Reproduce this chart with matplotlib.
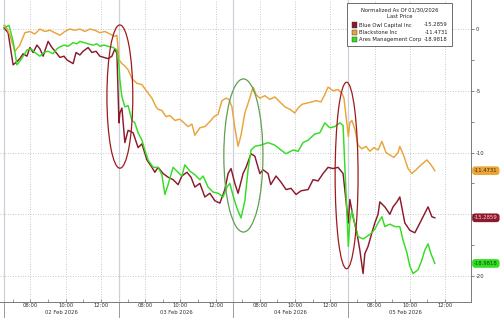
import matplotlib
matplotlib.use("Agg")
import matplotlib.pyplot as plt
import matplotlib.transforms as mtransforms
from matplotlib.patches import Ellipse, FancyBboxPatch, Rectangle

plt.rcParams['font.family'] = ['DejaVu Sans']

# ---- data: x = trading minutes since 02 Feb open (06:30), 390 min per session ----
bx_t = [0, 7, 20, 37, 54, 71, 88, 105, 122, 139, 156, 173, 190, 207, 224, 241, 258, 275, 292, 309, 326, 343, 360, 377, 384,
        391, 401, 411, 422, 435, 452, 469, 490, 503, 517, 524, 537, 551, 564, 581, 598, 612, 626, 639, 649, 666, 683, 700, 714, 728, 741, 755, 765,
        775, 785, 796, 806, 819, 833, 847, 857, 870, 887, 904, 921, 938, 955, 972, 989, 1000, 1013, 1030, 1047, 1061, 1078, 1091, 1102, 1119, 1136, 1149, 1156,
        1171, 1176, 1183, 1193, 1204, 1217, 1231, 1244, 1258, 1272, 1285, 1299, 1312, 1326, 1340, 1346, 1360, 1374, 1387, 1401, 1414, 1428, 1438, 1452, 1465]
bx_v = [0.3, 0.2, -0.5, -1.8, -1.3, -0.3, -0.2, -0.4, 0.0, -0.2, -0.1, -0.3, -0.5, -0.2, 0.0, -0.1, 0.0, -0.2, 0.0, -0.1, -0.3, -0.2, -0.4, -0.6, -0.5,
        -2.5, -2.8, -3.0, -3.3, -4.0, -4.4, -4.5, -5.2, -5.6, -6.3, -6.5, -6.6, -7.1, -7.0, -7.4, -7.3, -7.6, -7.9, -7.7, -8.6, -8.0, -7.9, -7.5, -7.1, -6.9, -5.8, -5.6, -5.7,
        -6.3, -8.0, -9.5, -8.6, -6.8, -5.8, -4.7, -5.3, -5.6, -5.4, -5.7, -5.5, -5.9, -6.3, -6.5, -6.8, -6.4, -6.1, -6.0, -5.9, -5.8, -5.9, -5.3, -4.7, -5.0, -4.9, -5.2, -5.6,
        -8.7, -7.6, -7.4, -8.1, -9.4, -9.7, -9.5, -9.9, -9.6, -9.8, -9.1, -10.0, -10.2, -10.4, -10.0, -9.5, -10.3, -11.3, -11.7, -11.4, -11.1, -10.8, -10.6, -11.0, -11.4731]

owl_t = [0, 14, 31, 41, 54, 65, 78, 88, 99, 112, 122, 133, 150, 163, 177, 190, 204, 214, 235, 245, 258, 269, 286, 299, 313, 326, 340, 354, 367, 377, 384,
         391, 394, 401, 411, 422, 439, 456, 469, 486, 503, 513, 524, 541, 558, 575, 592, 605, 622, 636, 649, 666, 683, 700, 717, 734, 751, 762, 772,
         785, 796, 813, 823, 840, 853, 870, 881, 898, 907, 925, 942, 959, 976, 993, 1010, 1034, 1051, 1068, 1085, 1102, 1119, 1136, 1153,
         1171, 1176, 1187, 1200, 1210, 1221, 1227, 1238, 1251, 1261, 1272, 1278, 1295, 1312, 1323, 1336, 1346, 1363, 1380, 1397, 1408, 1425, 1442, 1455, 1465]
owl_v = [0.1, -0.3, -2.9, -2.7, -2.4, -2.0, -2.2, -1.5, -1.9, -1.3, -1.6, -2.2, -1.0, -1.5, -1.9, -2.3, -2.2, -2.5, -2.8, -1.9, -2.1, -1.8, -1.5, -1.9, -1.8, -2.2, -2.3, -2.4, -2.2, -1.6, -2.0,
         -7.6, -6.8, -6.4, -9.2, -8.2, -8.4, -9.6, -9.3, -10.6, -11.2, -11.6, -11.2, -11.7, -12.0, -12.2, -12.6, -11.9, -11.6, -12.0, -12.8, -12.5, -13.6, -13.3, -13.9, -14.1, -13.0, -11.7, -11.3,
         -12.5, -13.3, -11.7, -11.2, -10.1, -10.3, -11.7, -11.4, -11.7, -12.6, -11.9, -12.4, -13.0, -12.9, -13.4, -13.1, -13.0, -12.2, -12.3, -11.7, -11.2, -11.3, -11.2, -11.7,
         -15.7, -13.8, -15.2, -16.5, -17.9, -19.8, -18.2, -17.6, -16.5, -15.7, -15.0, -14.0, -14.4, -15.0, -14.4, -14.0, -13.6, -15.7, -16.3, -16.5, -16.0, -15.2, -14.4, -15.2, -15.2859]

ares_t = [0, 17, 31, 44, 54, 68, 78, 92, 105, 122, 136, 150, 167, 180, 190, 204, 218, 235, 248, 258, 272, 286, 303, 316, 326, 340, 354, 371, 384,
          391, 394, 401, 411, 422, 435, 445, 456, 469, 479, 490, 507, 524, 537, 547, 558, 575, 592, 605, 615, 632, 649, 666, 677, 694, 711, 728, 745, 758, 768,
          779, 792, 806, 819, 830, 840, 853, 874, 898, 921, 942, 959, 983, 1000, 1017, 1034, 1057, 1074, 1091, 1108, 1125, 1142, 1153,
          1171, 1176, 1183, 1193, 1204, 1221, 1234, 1251, 1261, 1272, 1285, 1295, 1312, 1329, 1346, 1357, 1370, 1380, 1391, 1408, 1421, 1431, 1442, 1452, 1465]
ares_v = [0.1, 0.3, -1.0, -2.9, -2.6, -2.1, -1.7, -1.6, -1.9, -2.2, -1.9, -1.8, -2.0, -1.6, -1.45, -1.3, -1.4, -1.1, -1.2, -1.0, -1.1, -1.2, -1.3, -1.2, -1.4, -1.3, -1.4, -1.5, -1.7,
          -3.0, -4.1, -5.5, -6.3, -6.2, -7.4, -7.6, -8.4, -9.0, -9.8, -10.6, -11.2, -11.2, -11.8, -13.4, -12.6, -11.2, -11.6, -11.9, -11.0, -11.5, -11.8, -12.2, -11.9, -12.8, -13.2, -13.3, -13.6, -12.8, -12.5,
          -13.5, -14.5, -15.3, -13.9, -11.4, -9.8, -9.5, -9.4, -9.2, -9.4, -9.8, -10.1, -9.8, -9.9, -9.2, -9.0, -8.5, -8.4, -7.6, -8.0, -7.9, -7.6, -7.8,
          -17.6, -15.5, -14.7, -15.8, -16.8, -17.0, -16.8, -16.5, -16.2, -15.7, -15.2, -16.0, -15.8, -16.0, -16.0, -17.1, -18.1, -19.2, -19.8, -19.5, -18.7, -17.9, -17.4, -18.2, -18.9818]

names = ["Blue Owl Capital Inc", "Blackstone Inc", "Ares Management Corp"]
last_prices = [-15.2859, -11.4731, -18.9818]
colors = ["#8c1a2c", "#e9a43a", "#33dd22"]
tag_text_colors = ["#ffd0d8", "#4a2a00", "#0b4a0b"]

day_labels = ["02 Feb 2026", "03 Feb 2026", "04 Feb 2026", "05 Feb 2026"]
hour_labels = ["08:00", "10:00", "12:00"]
hour_offsets = [90, 210, 330]          # minutes after 06:30 open
minor_offsets = [30, 150, 270]         # 07:00, 09:00, 11:00
session_len = 390

y_ticks = [0, -5, -10, -15, -20]
y_tick_labels = ["0", "-5", "-10", "", "-20"]   # -15 hidden under the Blue Owl price tag

# annotation ellipses: (center minute, center value, width minutes, height value, colour)
ell_cx = [394, 814, 1165]
ell_cy = [-5.47, -10.24, -11.86]
ell_w = [88, 133, 78]
ell_h = [11.6, 12.4, 15.1]
ell_col = ["#9e1a1e", "#5fa04e", "#9e1a1e"]

# ---- figure ----
W, H = 500, 318
fig = plt.figure(figsize=(W / 100, H / 100), dpi=100)
ax_bottom = 301.7
ax_right = 470.7
ax = fig.add_axes([0, 1 - ax_bottom / H, ax_right / W, ax_bottom / H])

fs = 3.8
ax.set_xlim(-13.6, 1587)
ax.set_ylim(-22.08, 2.35)

# day separators
trans = mtransforms.blended_transform_factory(ax.transData, ax.transAxes)
for d in range(4):
    x0 = d * session_len
    ax.axvline(x0, color="#cdd2da", lw=0.9, zorder=1)
    ax.plot([x0, x0], [0, -0.06], transform=trans, color="#9a9a9a", lw=0.7, clip_on=False)
    ax.text(x0 + session_len / 2, -0.036, day_labels[d], transform=trans, ha="center", va="center",
            fontsize=fs, color="#333333")

major = [d * session_len + o for d in range(4) for o in hour_offsets]
minor = [d * session_len + o for d in range(4) for o in minor_offsets]
ax.set_xticks(major)
ax.set_xticklabels(hour_labels * 4)
ax.set_xticks(minor, minor=True)
ax.tick_params(axis="x", which="both", direction="in", length=2, width=0.5, colors="#777777",
               labelsize=fs, labelcolor="#333333", pad=1.0)

ax.yaxis.tick_right()
ax.set_yticks(y_ticks)
ax.set_yticklabels(y_tick_labels)
ax.set_yticks([-2.5, -7.5, -12.5, -17.5], minor=True)
ax.tick_params(axis="y", which="both", direction="out", length=2, width=0.5, colors="#555555",
               labelsize=fs, labelcolor="#333333", pad=1.5)

ax.grid(True, which="major", ls=(0, (1, 2)), color="#b5b5b5", lw=0.6)
ax.set_axisbelow(True)

for s in ["top", "left"]:
    ax.spines[s].set_visible(False)
for s in ["bottom", "right"]:
    ax.spines[s].set_color("#7a7a7a")
    ax.spines[s].set_linewidth(0.7)

series = [(owl_t, owl_v), (bx_t, bx_v), (ares_t, ares_v)]
order = [1, 0, 2]
for i in order:
    t, v = series[i]
    ax.plot(t, v, color=colors[i], lw=1.05, zorder=3 + i, solid_joinstyle="round")

for cx, cy, w, h, c in zip(ell_cx, ell_cy, ell_w, ell_h, ell_col):
    ax.add_patch(Ellipse((cx, cy), w, h, fill=False, ec=c, lw=0.9, zorder=6))

# right-side last price tags
ytrans = mtransforms.blended_transform_factory(ax.transAxes, ax.transData)
for i in range(3):
    ax.text(1.007, last_prices[i], f"{last_prices[i]:.4f}", transform=ytrans, ha="left", va="center",
            fontsize=fs, color=tag_text_colors[i], clip_on=False, zorder=10,
            bbox=dict(boxstyle="round,pad=0.35,rounding_size=0.6", fc=colors[i], ec="none"))

# legend box (figure pixel layout)
def fx(px):
    return px / W

def fy(py):
    return 1 - py / H

leg = FancyBboxPatch((fx(347), fy(46)), fx(452) - fx(347), fy(3) - fy(46), boxstyle="square,pad=0",
                     transform=fig.transFigure, fc="white", ec="#555555", lw=0.6, zorder=20)
fig.add_artist(leg)
fig.text(fx(399.5), fy(10), "Normalized As Of 01/30/2026", ha="center", va="center", fontsize=fs, color="#222222", zorder=21)
fig.text(fx(399.5), fy(17), "Last Price", ha="center", va="center", fontsize=fs, color="#222222", zorder=21)
entry_y = [25, 32.2, 39.3]
for i in range(3):
    fig.add_artist(Rectangle((fx(351.5), fy(entry_y[i] + 2.6)), fx(5.5), 5.2 / H, transform=fig.transFigure,
                             fc=colors[i], ec="#333333", lw=0.3, zorder=21))
    fig.text(fx(359), fy(entry_y[i]), names[i], ha="left", va="center", fontsize=fs, color="#222222", zorder=21)
    fig.text(fx(448), fy(entry_y[i]), f"{last_prices[i]:.4f}", ha="right", va="center", fontsize=fs, color="#222222", zorder=21)

fig.savefig("out.png", dpi=100)
